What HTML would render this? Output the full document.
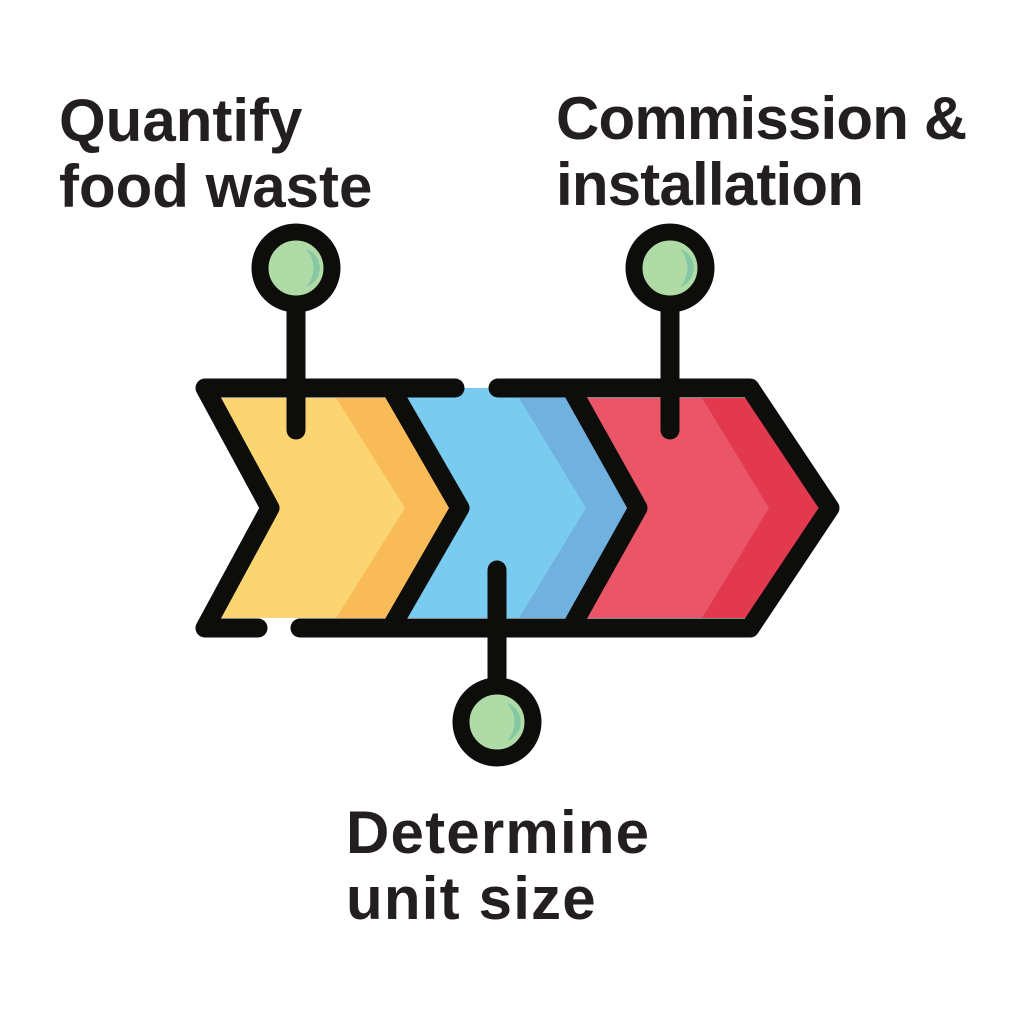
<!DOCTYPE html>
<html><head><style>
html,body{margin:0;padding:0;background:#fff;}
.t{position:absolute;font-family:"Liberation Sans",Arial,sans-serif;font-weight:bold;font-size:60px;color:#231f20;line-height:66px;white-space:nowrap;}
</style></head><body>
<div style="position:relative;width:1024px;height:1024px;overflow:hidden">
<svg width="1024" height="1024" style="position:absolute;left:0;top:0">
  <polygon points="212,398 390,398 458,508 390,618 212,618 270,508" fill="#fcd573"/>
  <polygon points="336,398 390,398 458,508 390,618 336,618 405,508" fill="#f8bb58"/>
  <polygon points="395,388 575,388 640,508 575,618 395,618 462,508" fill="#7acbf0"/>
  <polygon points="519,398 575,398 640,508 575,618 519,618 586,508" fill="#71b1e0"/>
  <polygon points="582,398 750,398 822,508 750,618 582,618 645,508" fill="#ea5668"/>
  <polygon points="702,398 750,398 822,508 750,618 702,618 769,508" fill="#e2394f"/>
  <g fill="none" stroke="#0d0d0b" stroke-width="19" stroke-linecap="round" stroke-linejoin="round">
    <polyline points="455,388 205,388 270,508 205,628 258,628"/>
    <polyline points="300,628 750,628 830,508 750,388 498,388"/>
    <polyline points="392,390 460,508 392,626"/>
    <polyline points="572,390 638,508 572,626"/>
    <line x1="296" y1="300" x2="296" y2="430"/>
    <line x1="670" y1="300" x2="670" y2="430"/>
    <line x1="497" y1="570" x2="497" y2="690"/>
  </g>
  <g stroke="#0d0d0b" stroke-width="17">
    <circle cx="296" cy="268" r="36" fill="#b0dba6"/>
    <circle cx="670" cy="268" r="36" fill="#b0dba6"/>
    <circle cx="497" cy="722" r="36" fill="#b0dba6"/>
  </g>
  <g fill="#85c8a4">
    <path d="M306,249 A20,20 0 0 1 306,287 A28,28 0 0 0 306,249Z"/>
    <path d="M680,249 A20,20 0 0 1 680,287 A28,28 0 0 0 680,249Z"/>
    <path d="M507,703 A20,20 0 0 1 507,741 A28,28 0 0 0 507,703Z"/>
  </g>
</svg>
<div class="t" style="left:59px;top:88px">Quantify<br>food waste</div>
<div class="t" style="left:556px;top:86px;letter-spacing:-0.8px">Commission &amp;<br>installation</div>
<div class="t" style="left:346px;top:800px;letter-spacing:1.2px">Determine<br>unit size</div>
</div>
</body></html>
